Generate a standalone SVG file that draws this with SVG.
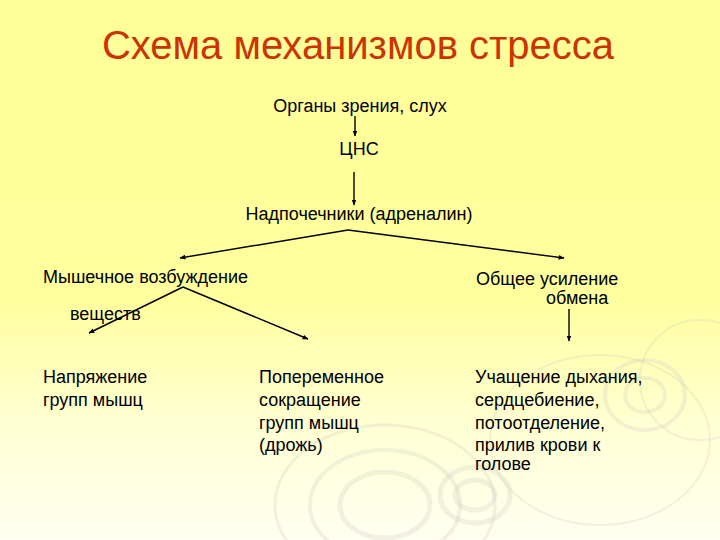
<svg xmlns="http://www.w3.org/2000/svg" width="720" height="540" viewBox="0 0 720 540">
<defs>
<linearGradient id="bg" x1="0" y1="0" x2="0" y2="1">
<stop offset="0" stop-color="#FFFF99"/>
<stop offset="0.55" stop-color="#FFFF9E"/>
<stop offset="0.8" stop-color="#FFFFD6"/>
<stop offset="1" stop-color="#FFFFF0"/>
</linearGradient>
<marker id="ah" viewBox="0 0 10 10" refX="9" refY="5" markerWidth="6" markerHeight="6" orient="auto" markerUnits="userSpaceOnUse">
<path d="M0,1 L10,5 L0,9 z" fill="#000"/>
</marker>
<style>
.t{font-family:"Liberation Sans",Arial,sans-serif;font-size:18px;fill:#000}
.title{font-family:"Liberation Sans",Arial,sans-serif;font-size:40px;fill:#CC3300}
.c{stroke:#000;stroke-width:1.4;fill:none}
.a{marker-end:url(#ah)}
.r{fill:none;stroke:#C8C8BE;stroke-opacity:0.25}
</style>
</defs>
<rect width="720" height="540" fill="url(#bg)"/>
<g id="ripples">
<ellipse class="r" cx="385" cy="505" rx="110" ry="80" stroke-width="3"/>
<ellipse class="r" cx="385" cy="505" rx="75" ry="55" stroke-width="4"/>
<ellipse class="r" cx="385" cy="505" rx="45" ry="33" stroke-width="5"/>
<ellipse class="r" cx="475" cy="495" rx="35" ry="28" stroke-width="5"/>
<ellipse class="r" cx="475" cy="495" rx="20" ry="15" stroke-width="5"/>
<ellipse class="r" cx="600" cy="440" rx="110" ry="85" stroke-width="2"/>
<ellipse class="r" cx="645" cy="395" rx="40" ry="35" stroke-width="4"/>
<ellipse class="r" cx="645" cy="395" rx="20" ry="17" stroke-width="4"/>
<ellipse class="r" cx="700" cy="380" rx="60" ry="60" stroke-width="2"/>
</g>
<text class="title" x="358" y="59" text-anchor="middle">Схема механизмов стресса</text>
<g id="n-organs"><text class="t" x="360" y="112" text-anchor="middle">Органы зрения, слух</text></g>
<g id="n-cns"><text class="t" x="359" y="155" text-anchor="middle">ЦНС</text></g>
<g id="n-adrenal"><text class="t" x="359" y="220" text-anchor="middle">Надпочечники (адреналин)</text></g>
<g id="n-muscle"><text class="t" x="43" y="283">Мышечное возбуждение</text></g>
<g id="n-veshchestv"><text class="t" x="70" y="320">веществ</text></g>
<g id="n-metab"><text class="t" x="476" y="285">Общее усиление</text><text class="t" x="546" y="304">обмена</text></g>
<g id="n-tension"><text class="t" x="43" y="383">Напряжение</text><text class="t" x="43" y="406">групп мышц</text></g>
<g id="n-alternating"><text class="t" x="259" y="383">Попеременное</text><text class="t" x="259" y="406">сокращение</text><text class="t" x="259" y="429">групп мышц</text><text class="t" x="259" y="451">(дрожь)</text></g>
<g id="n-breath"><text class="t" x="475" y="383">Учащение дыхания,</text><text class="t" x="475" y="406">сердцебиение,</text><text class="t" x="475" y="429">потоотделение,</text><text class="t" x="475" y="451">прилив крови к</text><text class="t" x="475" y="470">голове</text></g>
<g id="connectors">
<line class="c a" x1="355" y1="116" x2="355" y2="136"/>
<line class="c a" x1="354" y1="172" x2="354" y2="205"/>
<line class="c a" x1="348" y1="230" x2="180" y2="258"/>
<line class="c a" x1="348" y1="230" x2="564" y2="258"/>
<line class="c a" x1="183" y1="287" x2="89" y2="333"/>
<line class="c a" x1="183" y1="287" x2="308" y2="339"/>
<line class="c a" x1="569" y1="309" x2="569" y2="341"/>
</g>
</svg>
